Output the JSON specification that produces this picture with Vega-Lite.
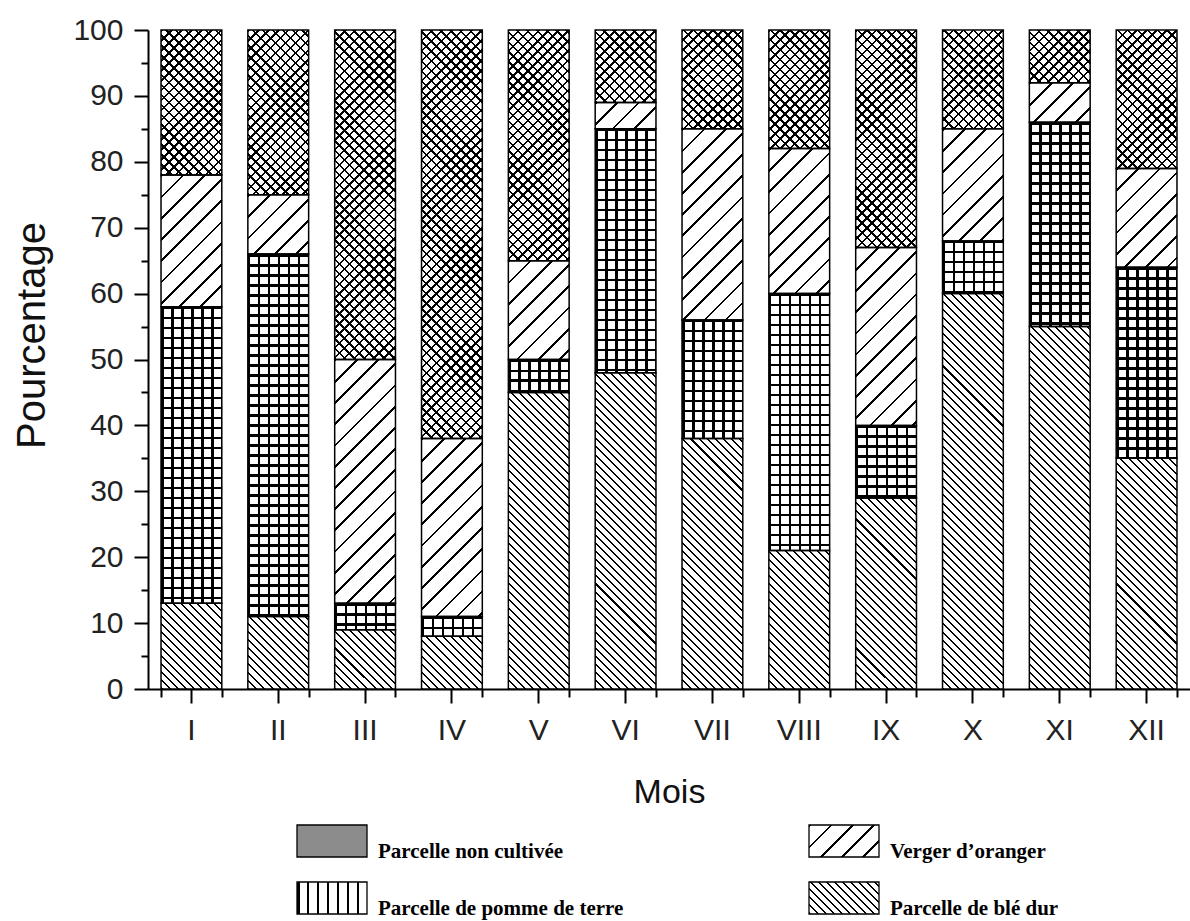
{
  "$schema": "https://vega.github.io/schema/vega-lite/v6.json",
  "autosize": "none",
  "padding": {"left": 148, "top": 30, "right": 0, "bottom": 232},
  "width": 1042,
  "height": 659,
  "background": "white",
  "config": {"view": {"stroke": null}, "font": "Liberation Sans"},
  "params": [
    {"name": "rayA", "value": [
      {"offset":0,"color":"#000"},{"offset":0.00417,"color":"#000"},{"offset":0.00417,"color":"transparent"},{"offset":0.01667,"color":"transparent"},
      {"offset":0.01667,"color":"#000"},{"offset":0.02083,"color":"#000"},{"offset":0.02083,"color":"transparent"},{"offset":0.03333,"color":"transparent"},
      {"offset":0.03333,"color":"#000"},{"offset":0.0375,"color":"#000"},{"offset":0.0375,"color":"transparent"},{"offset":0.05,"color":"transparent"},
      {"offset":0.05,"color":"#000"},{"offset":0.05417,"color":"#000"},{"offset":0.05417,"color":"transparent"},{"offset":0.06667,"color":"transparent"},
      {"offset":0.06667,"color":"#000"},{"offset":0.07083,"color":"#000"},{"offset":0.07083,"color":"transparent"},{"offset":0.08333,"color":"transparent"},
      {"offset":0.08333,"color":"#000"},{"offset":0.0875,"color":"#000"},{"offset":0.0875,"color":"transparent"},{"offset":0.1,"color":"transparent"},
      {"offset":0.1,"color":"#000"},{"offset":0.10417,"color":"#000"},{"offset":0.10417,"color":"transparent"},{"offset":0.11667,"color":"transparent"},
      {"offset":0.11667,"color":"#000"},{"offset":0.12083,"color":"#000"},{"offset":0.12083,"color":"transparent"},{"offset":0.13333,"color":"transparent"},
      {"offset":0.13333,"color":"#000"},{"offset":0.1375,"color":"#000"},{"offset":0.1375,"color":"transparent"},{"offset":0.15,"color":"transparent"},
      {"offset":0.15,"color":"#000"},{"offset":0.15417,"color":"#000"},{"offset":0.15417,"color":"transparent"},{"offset":0.16667,"color":"transparent"},
      {"offset":0.16667,"color":"#000"},{"offset":0.17083,"color":"#000"},{"offset":0.17083,"color":"transparent"},{"offset":0.18333,"color":"transparent"},
      {"offset":0.18333,"color":"#000"},{"offset":0.1875,"color":"#000"},{"offset":0.1875,"color":"transparent"},{"offset":0.2,"color":"transparent"},
      {"offset":0.2,"color":"#000"},{"offset":0.20417,"color":"#000"},{"offset":0.20417,"color":"transparent"},{"offset":0.21667,"color":"transparent"},
      {"offset":0.21667,"color":"#000"},{"offset":0.22083,"color":"#000"},{"offset":0.22083,"color":"transparent"},{"offset":0.23333,"color":"transparent"},
      {"offset":0.23333,"color":"#000"},{"offset":0.2375,"color":"#000"},{"offset":0.2375,"color":"transparent"},{"offset":0.25,"color":"transparent"},
      {"offset":0.25,"color":"#000"},{"offset":0.25417,"color":"#000"},{"offset":0.25417,"color":"transparent"},{"offset":0.26667,"color":"transparent"},
      {"offset":0.26667,"color":"#000"},{"offset":0.27083,"color":"#000"},{"offset":0.27083,"color":"transparent"},{"offset":0.28333,"color":"transparent"},
      {"offset":0.28333,"color":"#000"},{"offset":0.2875,"color":"#000"},{"offset":0.2875,"color":"transparent"},{"offset":0.3,"color":"transparent"},
      {"offset":0.3,"color":"#000"},{"offset":0.30417,"color":"#000"},{"offset":0.30417,"color":"transparent"},{"offset":0.31667,"color":"transparent"},
      {"offset":0.31667,"color":"#000"},{"offset":0.32083,"color":"#000"},{"offset":0.32083,"color":"transparent"},{"offset":0.33333,"color":"transparent"},
      {"offset":0.33333,"color":"#000"},{"offset":0.3375,"color":"#000"},{"offset":0.3375,"color":"transparent"},{"offset":0.35,"color":"transparent"},
      {"offset":0.35,"color":"#000"},{"offset":0.35417,"color":"#000"},{"offset":0.35417,"color":"transparent"},{"offset":0.36667,"color":"transparent"},
      {"offset":0.36667,"color":"#000"},{"offset":0.37083,"color":"#000"},{"offset":0.37083,"color":"transparent"},{"offset":0.38333,"color":"transparent"},
      {"offset":0.38333,"color":"#000"},{"offset":0.3875,"color":"#000"},{"offset":0.3875,"color":"transparent"},{"offset":0.4,"color":"transparent"},
      {"offset":0.4,"color":"#000"},{"offset":0.40417,"color":"#000"},{"offset":0.40417,"color":"transparent"},{"offset":0.41667,"color":"transparent"},
      {"offset":0.41667,"color":"#000"},{"offset":0.42083,"color":"#000"},{"offset":0.42083,"color":"transparent"},{"offset":0.43333,"color":"transparent"},
      {"offset":0.43333,"color":"#000"},{"offset":0.4375,"color":"#000"},{"offset":0.4375,"color":"transparent"},{"offset":0.45,"color":"transparent"},
      {"offset":0.45,"color":"#000"},{"offset":0.45417,"color":"#000"},{"offset":0.45417,"color":"transparent"},{"offset":0.46667,"color":"transparent"},
      {"offset":0.46667,"color":"#000"},{"offset":0.47083,"color":"#000"},{"offset":0.47083,"color":"transparent"},{"offset":0.48333,"color":"transparent"},
      {"offset":0.48333,"color":"#000"},{"offset":0.4875,"color":"#000"},{"offset":0.4875,"color":"transparent"},{"offset":0.5,"color":"transparent"},
      {"offset":0.5,"color":"#000"},{"offset":0.50417,"color":"#000"},{"offset":0.50417,"color":"transparent"},{"offset":0.51667,"color":"transparent"},
      {"offset":0.51667,"color":"#000"},{"offset":0.52083,"color":"#000"},{"offset":0.52083,"color":"transparent"},{"offset":0.53333,"color":"transparent"},
      {"offset":0.53333,"color":"#000"},{"offset":0.5375,"color":"#000"},{"offset":0.5375,"color":"transparent"},{"offset":0.55,"color":"transparent"},
      {"offset":0.55,"color":"#000"},{"offset":0.55417,"color":"#000"},{"offset":0.55417,"color":"transparent"},{"offset":0.56667,"color":"transparent"},
      {"offset":0.56667,"color":"#000"},{"offset":0.57083,"color":"#000"},{"offset":0.57083,"color":"transparent"},{"offset":0.58333,"color":"transparent"},
      {"offset":0.58333,"color":"#000"},{"offset":0.5875,"color":"#000"},{"offset":0.5875,"color":"transparent"},{"offset":0.6,"color":"transparent"},
      {"offset":0.6,"color":"#000"},{"offset":0.60417,"color":"#000"},{"offset":0.60417,"color":"transparent"},{"offset":0.61667,"color":"transparent"},
      {"offset":0.61667,"color":"#000"},{"offset":0.62083,"color":"#000"},{"offset":0.62083,"color":"transparent"},{"offset":0.63333,"color":"transparent"},
      {"offset":0.63333,"color":"#000"},{"offset":0.6375,"color":"#000"},{"offset":0.6375,"color":"transparent"},{"offset":0.65,"color":"transparent"},
      {"offset":0.65,"color":"#000"},{"offset":0.65417,"color":"#000"},{"offset":0.65417,"color":"transparent"},{"offset":0.66667,"color":"transparent"},
      {"offset":0.66667,"color":"#000"},{"offset":0.67083,"color":"#000"},{"offset":0.67083,"color":"transparent"},{"offset":0.68333,"color":"transparent"},
      {"offset":0.68333,"color":"#000"},{"offset":0.6875,"color":"#000"},{"offset":0.6875,"color":"transparent"},{"offset":0.7,"color":"transparent"},
      {"offset":0.7,"color":"#000"},{"offset":0.70417,"color":"#000"},{"offset":0.70417,"color":"transparent"},{"offset":0.71667,"color":"transparent"},
      {"offset":0.71667,"color":"#000"},{"offset":0.72083,"color":"#000"},{"offset":0.72083,"color":"transparent"},{"offset":0.73333,"color":"transparent"},
      {"offset":0.73333,"color":"#000"},{"offset":0.7375,"color":"#000"},{"offset":0.7375,"color":"transparent"},{"offset":0.75,"color":"transparent"},
      {"offset":0.75,"color":"#000"},{"offset":0.75417,"color":"#000"},{"offset":0.75417,"color":"transparent"},{"offset":0.76667,"color":"transparent"},
      {"offset":0.76667,"color":"#000"},{"offset":0.77083,"color":"#000"},{"offset":0.77083,"color":"transparent"},{"offset":0.78333,"color":"transparent"},
      {"offset":0.78333,"color":"#000"},{"offset":0.7875,"color":"#000"},{"offset":0.7875,"color":"transparent"},{"offset":0.8,"color":"transparent"},
      {"offset":0.8,"color":"#000"},{"offset":0.80417,"color":"#000"},{"offset":0.80417,"color":"transparent"},{"offset":0.81667,"color":"transparent"},
      {"offset":0.81667,"color":"#000"},{"offset":0.82083,"color":"#000"},{"offset":0.82083,"color":"transparent"},{"offset":0.83333,"color":"transparent"},
      {"offset":0.83333,"color":"#000"},{"offset":0.8375,"color":"#000"},{"offset":0.8375,"color":"transparent"},{"offset":0.85,"color":"transparent"},
      {"offset":0.85,"color":"#000"},{"offset":0.85417,"color":"#000"},{"offset":0.85417,"color":"transparent"},{"offset":0.86667,"color":"transparent"},
      {"offset":0.86667,"color":"#000"},{"offset":0.87083,"color":"#000"},{"offset":0.87083,"color":"transparent"},{"offset":0.88333,"color":"transparent"},
      {"offset":0.88333,"color":"#000"},{"offset":0.8875,"color":"#000"},{"offset":0.8875,"color":"transparent"},{"offset":0.9,"color":"transparent"},
      {"offset":0.9,"color":"#000"},{"offset":0.90417,"color":"#000"},{"offset":0.90417,"color":"transparent"},{"offset":0.91667,"color":"transparent"},
      {"offset":0.91667,"color":"#000"},{"offset":0.92083,"color":"#000"},{"offset":0.92083,"color":"transparent"},{"offset":0.93333,"color":"transparent"},
      {"offset":0.93333,"color":"#000"},{"offset":0.9375,"color":"#000"},{"offset":0.9375,"color":"transparent"},{"offset":0.95,"color":"transparent"},
      {"offset":0.95,"color":"#000"},{"offset":0.95417,"color":"#000"},{"offset":0.95417,"color":"transparent"},{"offset":0.96667,"color":"transparent"},
      {"offset":0.96667,"color":"#000"},{"offset":0.97083,"color":"#000"},{"offset":0.97083,"color":"transparent"},{"offset":0.98333,"color":"transparent"},
      {"offset":0.98333,"color":"#000"},{"offset":0.9875,"color":"#000"},{"offset":0.9875,"color":"transparent"},{"offset":1,"color":"transparent"}
    ]},
    {"name": "rayB", "value": [
      {"offset":0,"color":"#000"},{"offset":0.00325,"color":"#000"},{"offset":0.00325,"color":"transparent"},{"offset":0.025,"color":"transparent"},
      {"offset":0.025,"color":"#000"},{"offset":0.02825,"color":"#000"},{"offset":0.02825,"color":"transparent"},{"offset":0.05,"color":"transparent"},
      {"offset":0.05,"color":"#000"},{"offset":0.05325,"color":"#000"},{"offset":0.05325,"color":"transparent"},{"offset":0.075,"color":"transparent"},
      {"offset":0.075,"color":"#000"},{"offset":0.07825,"color":"#000"},{"offset":0.07825,"color":"transparent"},{"offset":0.1,"color":"transparent"},
      {"offset":0.1,"color":"#000"},{"offset":0.10325,"color":"#000"},{"offset":0.10325,"color":"transparent"},{"offset":0.125,"color":"transparent"},
      {"offset":0.125,"color":"#000"},{"offset":0.12825,"color":"#000"},{"offset":0.12825,"color":"transparent"},{"offset":0.15,"color":"transparent"},
      {"offset":0.15,"color":"#000"},{"offset":0.15325,"color":"#000"},{"offset":0.15325,"color":"transparent"},{"offset":0.175,"color":"transparent"},
      {"offset":0.175,"color":"#000"},{"offset":0.17825,"color":"#000"},{"offset":0.17825,"color":"transparent"},{"offset":0.2,"color":"transparent"},
      {"offset":0.2,"color":"#000"},{"offset":0.20325,"color":"#000"},{"offset":0.20325,"color":"transparent"},{"offset":0.225,"color":"transparent"},
      {"offset":0.225,"color":"#000"},{"offset":0.22825,"color":"#000"},{"offset":0.22825,"color":"transparent"},{"offset":0.25,"color":"transparent"},
      {"offset":0.25,"color":"#000"},{"offset":0.25325,"color":"#000"},{"offset":0.25325,"color":"transparent"},{"offset":0.275,"color":"transparent"},
      {"offset":0.275,"color":"#000"},{"offset":0.27825,"color":"#000"},{"offset":0.27825,"color":"transparent"},{"offset":0.3,"color":"transparent"},
      {"offset":0.3,"color":"#000"},{"offset":0.30325,"color":"#000"},{"offset":0.30325,"color":"transparent"},{"offset":0.325,"color":"transparent"},
      {"offset":0.325,"color":"#000"},{"offset":0.32825,"color":"#000"},{"offset":0.32825,"color":"transparent"},{"offset":0.35,"color":"transparent"},
      {"offset":0.35,"color":"#000"},{"offset":0.35325,"color":"#000"},{"offset":0.35325,"color":"transparent"},{"offset":0.375,"color":"transparent"},
      {"offset":0.375,"color":"#000"},{"offset":0.37825,"color":"#000"},{"offset":0.37825,"color":"transparent"},{"offset":0.4,"color":"transparent"},
      {"offset":0.4,"color":"#000"},{"offset":0.40325,"color":"#000"},{"offset":0.40325,"color":"transparent"},{"offset":0.425,"color":"transparent"},
      {"offset":0.425,"color":"#000"},{"offset":0.42825,"color":"#000"},{"offset":0.42825,"color":"transparent"},{"offset":0.45,"color":"transparent"},
      {"offset":0.45,"color":"#000"},{"offset":0.45325,"color":"#000"},{"offset":0.45325,"color":"transparent"},{"offset":0.475,"color":"transparent"},
      {"offset":0.475,"color":"#000"},{"offset":0.47825,"color":"#000"},{"offset":0.47825,"color":"transparent"},{"offset":0.5,"color":"transparent"},
      {"offset":0.5,"color":"#000"},{"offset":0.50325,"color":"#000"},{"offset":0.50325,"color":"transparent"},{"offset":0.525,"color":"transparent"},
      {"offset":0.525,"color":"#000"},{"offset":0.52825,"color":"#000"},{"offset":0.52825,"color":"transparent"},{"offset":0.55,"color":"transparent"},
      {"offset":0.55,"color":"#000"},{"offset":0.55325,"color":"#000"},{"offset":0.55325,"color":"transparent"},{"offset":0.575,"color":"transparent"},
      {"offset":0.575,"color":"#000"},{"offset":0.57825,"color":"#000"},{"offset":0.57825,"color":"transparent"},{"offset":0.6,"color":"transparent"},
      {"offset":0.6,"color":"#000"},{"offset":0.60325,"color":"#000"},{"offset":0.60325,"color":"transparent"},{"offset":0.625,"color":"transparent"},
      {"offset":0.625,"color":"#000"},{"offset":0.62825,"color":"#000"},{"offset":0.62825,"color":"transparent"},{"offset":0.65,"color":"transparent"},
      {"offset":0.65,"color":"#000"},{"offset":0.65325,"color":"#000"},{"offset":0.65325,"color":"transparent"},{"offset":0.675,"color":"transparent"},
      {"offset":0.675,"color":"#000"},{"offset":0.67825,"color":"#000"},{"offset":0.67825,"color":"transparent"},{"offset":0.7,"color":"transparent"},
      {"offset":0.7,"color":"#000"},{"offset":0.70325,"color":"#000"},{"offset":0.70325,"color":"transparent"},{"offset":0.725,"color":"transparent"},
      {"offset":0.725,"color":"#000"},{"offset":0.72825,"color":"#000"},{"offset":0.72825,"color":"transparent"},{"offset":0.75,"color":"transparent"},
      {"offset":0.75,"color":"#000"},{"offset":0.75325,"color":"#000"},{"offset":0.75325,"color":"transparent"},{"offset":0.775,"color":"transparent"},
      {"offset":0.775,"color":"#000"},{"offset":0.77825,"color":"#000"},{"offset":0.77825,"color":"transparent"},{"offset":0.8,"color":"transparent"},
      {"offset":0.8,"color":"#000"},{"offset":0.80325,"color":"#000"},{"offset":0.80325,"color":"transparent"},{"offset":0.825,"color":"transparent"},
      {"offset":0.825,"color":"#000"},{"offset":0.82825,"color":"#000"},{"offset":0.82825,"color":"transparent"},{"offset":0.85,"color":"transparent"},
      {"offset":0.85,"color":"#000"},{"offset":0.85325,"color":"#000"},{"offset":0.85325,"color":"transparent"},{"offset":0.875,"color":"transparent"},
      {"offset":0.875,"color":"#000"},{"offset":0.87825,"color":"#000"},{"offset":0.87825,"color":"transparent"},{"offset":0.9,"color":"transparent"},
      {"offset":0.9,"color":"#000"},{"offset":0.90325,"color":"#000"},{"offset":0.90325,"color":"transparent"},{"offset":0.925,"color":"transparent"},
      {"offset":0.925,"color":"#000"},{"offset":0.92825,"color":"#000"},{"offset":0.92825,"color":"transparent"},{"offset":0.95,"color":"transparent"},
      {"offset":0.95,"color":"#000"},{"offset":0.95325,"color":"#000"},{"offset":0.95325,"color":"transparent"},{"offset":0.975,"color":"transparent"},
      {"offset":0.975,"color":"#000"},{"offset":0.97825,"color":"#000"},{"offset":0.97825,"color":"transparent"},{"offset":1,"color":"transparent"}
    ]}
  ],
  "data": {
    "values": [
      {"mois": "I", "parcelle": "Parcelle de blé dur", "pourcentage": 13},
      {"mois": "I", "parcelle": "Parcelle de pomme de terre", "pourcentage": 45},
      {"mois": "I", "parcelle": "Verger d’oranger", "pourcentage": 20},
      {"mois": "I", "parcelle": "Parcelle non cultivée", "pourcentage": 22},
      {"mois": "II", "parcelle": "Parcelle de blé dur", "pourcentage": 11},
      {"mois": "II", "parcelle": "Parcelle de pomme de terre", "pourcentage": 55},
      {"mois": "II", "parcelle": "Verger d’oranger", "pourcentage": 9},
      {"mois": "II", "parcelle": "Parcelle non cultivée", "pourcentage": 25},
      {"mois": "III", "parcelle": "Parcelle de blé dur", "pourcentage": 9},
      {"mois": "III", "parcelle": "Parcelle de pomme de terre", "pourcentage": 4},
      {"mois": "III", "parcelle": "Verger d’oranger", "pourcentage": 37},
      {"mois": "III", "parcelle": "Parcelle non cultivée", "pourcentage": 50},
      {"mois": "IV", "parcelle": "Parcelle de blé dur", "pourcentage": 8},
      {"mois": "IV", "parcelle": "Parcelle de pomme de terre", "pourcentage": 3},
      {"mois": "IV", "parcelle": "Verger d’oranger", "pourcentage": 27},
      {"mois": "IV", "parcelle": "Parcelle non cultivée", "pourcentage": 62},
      {"mois": "V", "parcelle": "Parcelle de blé dur", "pourcentage": 45},
      {"mois": "V", "parcelle": "Parcelle de pomme de terre", "pourcentage": 5},
      {"mois": "V", "parcelle": "Verger d’oranger", "pourcentage": 15},
      {"mois": "V", "parcelle": "Parcelle non cultivée", "pourcentage": 35},
      {"mois": "VI", "parcelle": "Parcelle de blé dur", "pourcentage": 48},
      {"mois": "VI", "parcelle": "Parcelle de pomme de terre", "pourcentage": 37},
      {"mois": "VI", "parcelle": "Verger d’oranger", "pourcentage": 4},
      {"mois": "VI", "parcelle": "Parcelle non cultivée", "pourcentage": 11},
      {"mois": "VII", "parcelle": "Parcelle de blé dur", "pourcentage": 38},
      {"mois": "VII", "parcelle": "Parcelle de pomme de terre", "pourcentage": 18},
      {"mois": "VII", "parcelle": "Verger d’oranger", "pourcentage": 29},
      {"mois": "VII", "parcelle": "Parcelle non cultivée", "pourcentage": 15},
      {"mois": "VIII", "parcelle": "Parcelle de blé dur", "pourcentage": 21},
      {"mois": "VIII", "parcelle": "Parcelle de pomme de terre", "pourcentage": 39},
      {"mois": "VIII", "parcelle": "Verger d’oranger", "pourcentage": 22},
      {"mois": "VIII", "parcelle": "Parcelle non cultivée", "pourcentage": 18},
      {"mois": "IX", "parcelle": "Parcelle de blé dur", "pourcentage": 29},
      {"mois": "IX", "parcelle": "Parcelle de pomme de terre", "pourcentage": 11},
      {"mois": "IX", "parcelle": "Verger d’oranger", "pourcentage": 27},
      {"mois": "IX", "parcelle": "Parcelle non cultivée", "pourcentage": 33},
      {"mois": "X", "parcelle": "Parcelle de blé dur", "pourcentage": 60},
      {"mois": "X", "parcelle": "Parcelle de pomme de terre", "pourcentage": 8},
      {"mois": "X", "parcelle": "Verger d’oranger", "pourcentage": 17},
      {"mois": "X", "parcelle": "Parcelle non cultivée", "pourcentage": 15},
      {"mois": "XI", "parcelle": "Parcelle de blé dur", "pourcentage": 55},
      {"mois": "XI", "parcelle": "Parcelle de pomme de terre", "pourcentage": 31},
      {"mois": "XI", "parcelle": "Verger d’oranger", "pourcentage": 6},
      {"mois": "XI", "parcelle": "Parcelle non cultivée", "pourcentage": 8},
      {"mois": "XII", "parcelle": "Parcelle de blé dur", "pourcentage": 35},
      {"mois": "XII", "parcelle": "Parcelle de pomme de terre", "pourcentage": 29},
      {"mois": "XII", "parcelle": "Verger d’oranger", "pourcentage": 15},
      {"mois": "XII", "parcelle": "Parcelle non cultivée", "pourcentage": 21}
    ]
  },
  "transform": [
    {"window": [{"op": "row_number", "as": "rang"}], "groupby": ["mois"]}
  ],
  "encoding": {
    "y": {
      "field": "pourcentage",
      "type": "quantitative",
      "stack": "zero",
      "scale": {"domain": [0, 100], "nice": false},
      "axis": {
        "title": "Pourcentage",
        "titleFontSize": 40,
        "titleFontWeight": "normal",
        "titleColor": "#111",
        "titlePadding": 20,
        "titleY": 305,
        "values": [0, 5, 10, 15, 20, 25, 30, 35, 40, 45, 50, 55, 60, 65, 70, 75, 80, 85, 90, 95, 100],
        "labelExpr": "datum.value % 10 === 0 ? datum.label : ''",
        "tickSize": {"condition": {"test": "datum.value % 10 === 0", "value": 14}, "value": 7},
        "labelFontSize": 30,
        "labelColor": "#222",
        "labelPadding": 11,
        "tickWidth": 2,
        "tickColor": "black",
        "domainColor": "black",
        "domainWidth": 2,
        "grid": false
      }
    },
    "detail": {"field": "parcelle"},
    "order": {"field": "rang", "type": "quantitative"}
  },
  "layer": [
    {
      "mark": {"type": "bar", "strokeWidth": 0},
      "encoding": {
        "x": {
          "field": "mois",
          "type": "ordinal",
          "sort": ["I", "II", "III", "IV", "V", "VI", "VII", "VIII", "IX", "X", "XI", "XII"],
          "scale": {"paddingInner": 0.3, "paddingOuter": 0.15},
          "axis": {
            "orient": "bottom",
            "tickBand": "extent",
            "labels": false,
            "domain": false,
            "title": null,
            "tickSize": 8,
            "tickWidth": 2,
            "tickColor": "black"
          }
        },
        "color": {
          "field": "parcelle",
          "type": "nominal",
          "scale": {
            "domain": ["Parcelle non cultivée", "Verger d’oranger", "Parcelle de pomme de terre", "Parcelle de blé dur"],
            "range": [
              "#8c8c8c",
              {"expr": "{gradient: 'linear', x1: 0, y1: 0, x2: 10.03, y2: 4.583, stops: rayB}"},
              {"expr": "{gradient: 'linear', x1: 0, y1: 0, x2: 8.57, y2: 0, stops: rayA}"},
              {"expr": "{gradient: 'linear', x1: 0, y1: 1, x2: 5.716, y2: -1.613, stops: rayA}"}
            ]
          },
          "legend": {
            "orient": "none",
            "legendX": 148,
            "legendY": 775,
            "direction": "horizontal",
            "columns": 2,
            "title": null,
            "symbolType": "M-1,-0.457H1V0.457H-1Z",
            "symbolSize": 4900,
            "symbolStrokeColor": "black",
            "symbolStrokeWidth": 1.3,
            "symbolOpacity": 1,
            "labelFont": "Liberation Serif",
            "labelFontWeight": "bold",
            "labelFontSize": 21,
            "labelColor": "black",
            "labelBaseline": "top",
            "labelOffset": 10,
            "labelLimit": 400,
            "columnPadding": 182,
            "rowPadding": -10
          }
        }
      }
    },
    {
      "mark": {"type": "bar", "fill": "white", "strokeWidth": 0},
      "encoding": {
        "x": {
          "field": "mois",
          "type": "ordinal",
          "sort": ["I", "II", "III", "IV", "V", "VI", "VII", "VIII", "IX", "X", "XI", "XII"],
          "scale": {"paddingInner": 0.3, "paddingOuter": 0.15},
          "axis": {
            "orient": "bottom",
            "title": "Mois",
            "titleFontSize": 34,
            "titleFontWeight": "normal",
            "titleColor": "#111",
            "titlePadding": 30,
            "labelAngle": 0,
            "labelFontSize": 30,
            "labelColor": "#222",
            "labelPadding": 12,
            "tickSize": 14,
            "tickWidth": 2,
            "tickColor": "black",
            "domainColor": "black",
            "domainWidth": 2
          }
        }
      }
    },
    {
      "mark": {
        "type": "bar",
        "strokeWidth": 0,
        "fill": {"expr": "datum.parcelle == 'Parcelle de blé dur' ? {gradient: 'linear', x1: 0, y1: 1, x2: 483.7*60.78/(3694.2+pow(datum.pourcentage*6.59,2)), y2: 1-483.7*datum.pourcentage*6.59/(3694.2+pow(datum.pourcentage*6.59,2)), stops: rayA} : datum.parcelle == 'Parcelle non cultivée' ? {gradient: 'linear', x1: 0, y1: 0, x2: 594*60.78/(3694.2+pow(datum.pourcentage*6.59,2)), y2: 594*datum.pourcentage*6.59/(3694.2+pow(datum.pourcentage*6.59,2)), stops: rayA} : datum.parcelle == 'Verger d’oranger' ? {gradient: 'linear', x1: 0, y1: 0, x2: 848.5*60.78/(3694.2+pow(datum.pourcentage*6.59,2)), y2: 848.5*datum.pourcentage*6.59/(3694.2+pow(datum.pourcentage*6.59,2)), stops: rayB} : {gradient: 'linear', x1: 0, y1: 0, x2: 0.000001, y2: 600/(datum.pourcentage*6.59), stops: rayA}"}
      },
      "encoding": {
        "x": {
          "field": "mois",
          "type": "ordinal",
          "sort": ["I", "II", "III", "IV", "V", "VI", "VII", "VIII", "IX", "X", "XI", "XII"],
          "scale": {"paddingInner": 0.3, "paddingOuter": 0.15},
          "axis": null
        }
      }
    },
    {
      "mark": {
        "type": "bar",
        "strokeWidth": 0,
        "fill": {"expr": "datum.parcelle == 'Parcelle non cultivée' ? {gradient: 'linear', x1: 0, y1: 1, x2: 594*60.78/(3694.2+pow(datum.pourcentage*6.59,2)), y2: 1-594*datum.pourcentage*6.59/(3694.2+pow(datum.pourcentage*6.59,2)), stops: rayA} : datum.parcelle == 'Parcelle de pomme de terre' ? {gradient: 'linear', x1: 0, y1: 0, x2: 9.872, y2: 0, stops: rayA} : 'transparent'"}
      },
      "encoding": {
        "x": {
          "field": "mois",
          "type": "ordinal",
          "sort": ["I", "II", "III", "IV", "V", "VI", "VII", "VIII", "IX", "X", "XI", "XII"],
          "scale": {"paddingInner": 0.3, "paddingOuter": 0.15},
          "axis": null
        }
      }
    },
    {
      "mark": {"type": "bar", "fill": "white", "fillOpacity": 0, "stroke": "black", "strokeWidth": 1.5},
      "encoding": {
        "x": {
          "field": "mois",
          "type": "ordinal",
          "sort": ["I", "II", "III", "IV", "V", "VI", "VII", "VIII", "IX", "X", "XI", "XII"],
          "scale": {"paddingInner": 0.3, "paddingOuter": 0.15},
          "axis": null
        }
      }
    }
  ],
  "resolve": {"axis": {"x": "independent"}}
}
